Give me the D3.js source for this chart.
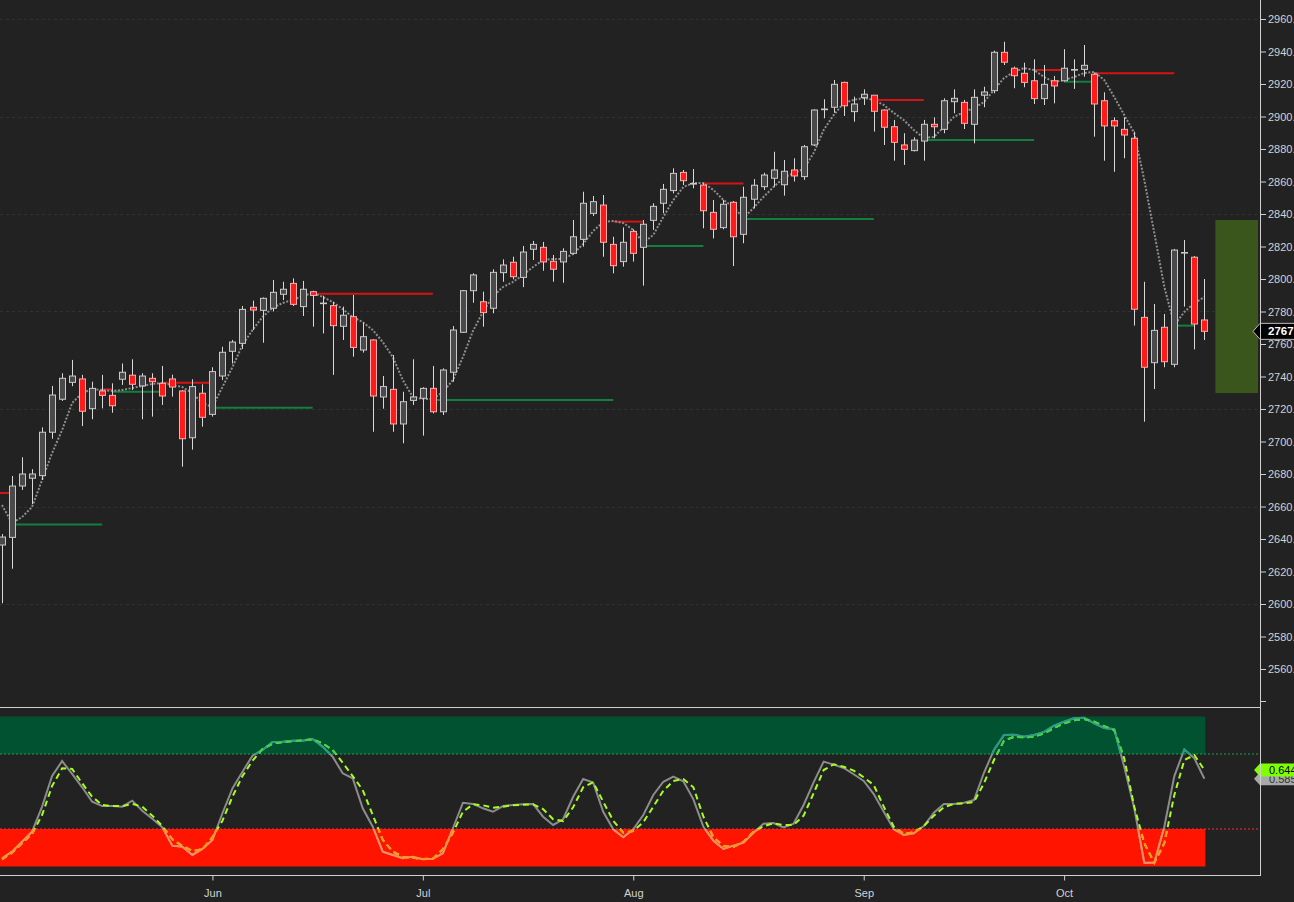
<!DOCTYPE html>
<html><head><meta charset="utf-8">
<script src="https://cdn.jsdelivr.net/npm/d3@7"></script>
<style>
html,body{margin:0;padding:0;background:#222222;overflow:hidden}
svg{display:block}
text{font-family:"Liberation Sans",Arial,sans-serif}
</style></head><body>
<svg id="c" width="1294" height="902"></svg>
<script>
// ---------- DATA ----------
const opens = [2636.3,2641.0,2672.6,2677.4,2679.0,2705.7,2726.0,2736.4,2738.5,2720.2,
2731.1,2728.4,2738.3,2740.8,2734.2,2738.9,2735.8,2738.5,2731.1,2702.3,
2729.7,2716.7,2740.3,2755.5,2760.4,2782.6,2780.7,2782.0,2790.6,2797.3,
2783.0,2792.2,2785.0,2783.6,2770.9,2776.8,2756.3,2762.5,2727.4,2732.1,
2710.8,2725.3,2726.6,2732.7,2718.3,2742.6,2767.2,2792.8,2786.0,2782.0,
2803.9,2810.3,2801.0,2818.3,2819.5,2810.9,2810.5,2815.8,2824.4,2840.4,
2845.5,2821.3,2810.7,2829.3,2819.5,2836.1,2846.6,2854.4,2865.6,2858.4,
2857.8,2841.0,2831.6,2847.2,2827.5,2849.1,2856.8,2862.0,2858.0,2867.1,
2863.0,2882.5,2904.2,2905.7,2921.0,2903.0,2911.6,2913.1,2904.0,2893.7,
2882.5,2879.0,2884.9,2895.2,2892.1,2909.1,2908.7,2895.2,2913.1,2915.9,
2939.5,2929.7,2926.6,2922.0,2911.0,2922.0,2922.0,2928.6,2929.0,2926.0,
2909.7,2897.4,2892.1,2886.6,2776.4,2748.5,2770.3,2747.5,2816.0,2813.4,
2774.8];
const highs = [2643.0,2678.8,2690.3,2683.0,2708.7,2734.2,2742.0,2750.2,2741.0,2736.8,
2741.0,2735.8,2748.0,2750.6,2742.0,2742.0,2746.5,2741.1,2731.7,2738.3,
2735.2,2745.7,2758.3,2762.5,2783.4,2786.7,2788.7,2799.4,2798.3,2800.4,
2798.8,2792.8,2789.7,2786.0,2783.0,2790.2,2773.1,2762.9,2740.3,2753.2,
2730.6,2750.6,2733.4,2746.5,2745.0,2771.0,2793.2,2803.5,2792.2,2806.0,
2812.1,2813.7,2820.3,2823.4,2822.8,2814.8,2818.9,2836.3,2853.7,2851.1,
2851.7,2826.0,2831.8,2830.6,2836.3,2846.6,2858.5,2868.1,2867.1,2867.7,
2858.9,2848.6,2848.6,2848.0,2856.8,2861.5,2865.4,2878.3,2873.2,2874.3,
2882.5,2904.4,2910.6,2922.5,2921.4,2912.2,2916.7,2913.2,2904.4,2897.9,
2889.7,2887.2,2897.9,2899.5,2911.2,2916.7,2910.2,2916.7,2918.3,2940.5,
2946.0,2930.7,2933.1,2935.2,2931.7,2924.9,2941.4,2935.2,2944.0,2927.0,
2914.9,2899.5,2899.5,2890.7,2798.3,2784.6,2778.5,2818.5,2824.0,2814.2,
2800.0];
const lows = [2600.5,2621.7,2670.2,2661.5,2676.3,2701.7,2725.0,2734.0,2709.5,2713.7,
2720.4,2717.7,2734.8,2731.7,2713.7,2715.3,2722.5,2727.6,2684.5,2695.0,
2709.1,2715.3,2737.8,2748.0,2757.0,2768.6,2760.8,2780.0,2787.0,2783.4,
2777.2,2770.7,2766.5,2741.0,2762.5,2752.2,2754.7,2706.0,2720.2,2706.0,
2698.9,2722.5,2703.6,2717.3,2716.3,2736.8,2767.0,2785.4,2770.7,2778.9,
2798.3,2799.8,2795.0,2811.7,2805.1,2798.3,2797.7,2815.0,2819.9,2838.8,
2813.7,2803.5,2807.6,2810.7,2795.9,2830.2,2840.4,2852.7,2857.8,2855.8,
2831.2,2825.0,2830.6,2808.0,2822.0,2843.5,2854.8,2856.8,2851.3,2860.0,
2861.0,2881.8,2898.9,2902.3,2900.3,2896.8,2907.1,2890.7,2882.5,2872.8,
2870.2,2878.5,2872.8,2886.6,2889.7,2902.0,2892.3,2883.5,2905.7,2914.3,
2931.7,2917.4,2918.0,2907.7,2907.1,2908.1,2921.5,2917.0,2924.5,2887.6,
2872.8,2866.0,2874.3,2771.3,2712.2,2732.3,2745.7,2745.7,2783.0,2756.7,
2762.5];
const closes = [2641.2,2672.6,2680.0,2680.0,2705.7,2728.6,2738.9,2740.3,2718.6,2732.7,
2728.4,2722.0,2742.6,2735.2,2740.3,2736.8,2728.0,2733.5,2701.7,2733.8,
2714.9,2743.0,2754.9,2761.2,2781.3,2780.9,2788.1,2791.8,2793.7,2784.4,
2793.7,2789.9,2785.2,2771.3,2777.7,2757.9,2764.5,2728.0,2733.8,2710.8,
2724.5,2727.4,2732.7,2718.3,2744.0,2768.6,2792.8,2802.5,2779.3,2804.1,
2808.6,2801.4,2816.6,2821.3,2810.5,2806.0,2817.0,2826.0,2846.6,2847.6,
2822.6,2808.2,2822.6,2815.8,2833.7,2844.7,2855.2,2865.0,2860.5,2858.8,
2842.0,2830.6,2846.0,2826.0,2850.3,2857.7,2864.0,2867.1,2866.3,2863.4,
2881.4,2904.0,2904.6,2919.8,2906.6,2907.7,2913.7,2903.2,2893.4,2884.1,
2879.8,2885.5,2895.2,2893.7,2909.7,2911.2,2895.8,2911.8,2915.1,2939.5,
2933.4,2925.1,2921.0,2911.0,2919.8,2918.8,2929.7,2928.9,2931.5,2907.7,
2894.2,2894.2,2888.6,2781.4,2745.7,2768.4,2749.1,2817.8,2816.3,2772.3,
2767.8];
const maLine = [2660.9,2649.8,2653.5,2659.7,2676.3,2692.9,2707.1,2723.7,2729.8,2732.3,
2731.7,2731.1,2731.7,2732.9,2734.2,2735.4,2736.0,2734.8,2733.5,2729.8,
2723.7,2721.2,2733.5,2745.8,2759.4,2768.6,2776.6,2782.2,2785.2,2787.1,
2789.5,2791.4,2789.0,2785.8,2781.5,2776.6,2773.5,2768.6,2761.2,2752.0,
2737.8,2727.4,2726.2,2726.2,2730.5,2737.8,2752.0,2768.0,2779.7,2789.5,
2795.1,2798.2,2802.5,2807.4,2811.7,2812.3,2812.3,2815.4,2821.5,2829.5,
2835.1,2835.7,2834.5,2830.2,2822.2,2827.1,2838.2,2848.6,2856.6,2859.1,
2859.1,2854.8,2848.6,2844.3,2837.5,2843.7,2850.5,2856.6,2862.2,2865.2,
2867.7,2877.5,2891.7,2900.9,2908.3,2910.2,2911.4,2910.2,2907.1,2902.2,
2897.8,2891.7,2886.8,2887.4,2893.5,2899.7,2902.8,2905.2,2908.9,2916.3,
2923.7,2927.4,2929.8,2928.6,2924.3,2921.2,2922.5,2924.3,2926.8,2927.4,
2922.5,2912.0,2900.9,2889.8,2860.9,2828.3,2795.1,2771.7,2779.7,2785.2,
2788.9];
const oscK = [0.055,0.099,0.165,0.232,0.399,0.603,0.703,0.617,0.528,0.432,
0.403,0.403,0.399,0.439,0.372,0.319,0.261,0.139,0.132,0.077,
0.117,0.177,0.355,0.521,0.632,0.739,0.777,0.830,0.832,0.839,
0.839,0.850,0.799,0.732,0.621,0.588,0.388,0.265,0.099,0.077,
0.055,0.065,0.048,0.052,0.088,0.255,0.425,0.417,0.388,0.365,
0.403,0.410,0.415,0.417,0.332,0.277,0.315,0.465,0.583,0.559,
0.365,0.248,0.195,0.248,0.343,0.477,0.565,0.599,0.568,0.448,
0.265,0.172,0.117,0.139,0.159,0.225,0.285,0.290,0.261,0.285,
0.410,0.561,0.699,0.679,0.657,0.615,0.570,0.483,0.365,0.248,
0.210,0.221,0.270,0.359,0.417,0.417,0.425,0.443,0.625,0.777,
0.877,0.879,0.865,0.877,0.897,0.939,0.965,0.988,0.992,0.955,
0.923,0.915,0.665,0.388,0.025,0.025,0.265,0.603,0.781,0.721,
0.585];
const oscD = [0.048,0.092,0.155,0.217,0.343,0.537,0.655,0.650,0.555,0.465,
0.410,0.403,0.403,0.417,0.399,0.339,0.270,0.181,0.137,0.105,
0.115,0.195,0.305,0.465,0.603,0.705,0.783,0.819,0.830,0.835,
0.841,0.848,0.821,0.777,0.692,0.603,0.510,0.343,0.177,0.099,
0.065,0.059,0.050,0.052,0.115,0.225,0.365,0.415,0.408,0.392,
0.399,0.408,0.412,0.415,0.383,0.315,0.303,0.395,0.528,0.561,
0.432,0.305,0.225,0.237,0.295,0.399,0.505,0.570,0.583,0.528,
0.332,0.195,0.137,0.130,0.165,0.232,0.268,0.288,0.277,0.277,
0.339,0.488,0.643,0.681,0.665,0.639,0.595,0.543,0.399,0.265,
0.217,0.228,0.270,0.339,0.395,0.417,0.421,0.430,0.555,0.710,
0.839,0.865,0.861,0.865,0.888,0.923,0.955,0.975,0.983,0.965,
0.935,0.910,0.721,0.399,0.155,0.025,0.155,0.477,0.710,0.743,
0.643];
const levelStart = [-3,1,10,11,16,21,31,43,61,64,70,74,87,92,103,106,109,117];
const levelEnd   = [1,10,11,16,21,31,43,61,64,70,74,87,92,103,106,109,117,119];
const levelPrice = [2668.3,2649.0,2732.1,2730.6,2736.2,2720.8,2791.0,2725.5,2835.3,2820.3,2858.7,2836.9,2910.2,2885.5,2928.6,2921.4,2926.6,2771.3];
const levelKind  = ["R","S","R","S","R","S","R","S","R","S","R","S","R","S","R","S","R","S"];
const zoneHigh = 2836.3, zoneLow = 2729.8;
const priceTicks = [2560,2580,2600,2620,2640,2660,2680,2700,2720,2740,2760,2780,2800,2820,2840,2860,2880,2900,2920,2940,2960];
const gridPrices = [2600,2660,2720,2780,2840,2900,2960];
const monthTicks = [21,42,63,86,106];
const monthLabels = ["Jun","Jul","Aug","Sep","Oct"];
const oscLevels = [0.75,0.25];
const lastPrice = 2767.78;
const lastK = 0.585, lastD = 0.644;

// ---------- LAYOUT ----------
const axisX = 1260, sepY = 707, botY = 875;
const svg = d3.select("#c");
const x = d3.scaleLinear().domain([0,120]).range([2,1204.4]);
const y = d3.scaleLinear().domain([2560,2960]).range([669,19]);
const yo = d3.scaleLinear().domain([0,1]).range([866.5,716.5]);
const idx = d3.range(closes.length);
const defs = svg.append("defs");
defs.append("clipPath").attr("id","pclip").append("rect").attr("x",0).attr("y",0).attr("width",axisX).attr("height",sepY-1);
defs.append("clipPath").attr("id","gclip").append("rect").attr("x",0).attr("y",700).attr("width",axisX).attr("height",yo(0.75)-700);
defs.append("clipPath").attr("id","rclip").append("rect").attr("x",0).attr("y",yo(0.25)).attr("width",axisX).attr("height",botY-yo(0.25));

svg.append("rect").attr("width",1294).attr("height",902).attr("fill","#222222");

// ---------- PRICE PANEL ----------
const gp = svg.append("g").attr("clip-path","url(#pclip)");
gp.selectAll("line.grid").data(gridPrices).join("line")
  .attr("x1",0).attr("x2",axisX).attr("y1",d=>Math.round(y(d))+0.5).attr("y2",d=>Math.round(y(d))+0.5)
  .attr("stroke","#323232").attr("stroke-width",1).attr("stroke-dasharray","3,3");

// zone box
gp.append("rect").attr("x",x(120)+11).attr("width",axisX-2-(x(120)+11))
  .attr("y",y(zoneHigh)).attr("height",y(zoneLow)-y(zoneHigh)).attr("fill","#3b561d");

// support / resistance levels
gp.selectAll("line.lvl").data(levelPrice).join("line")
  .attr("x1",(d,i)=>x(levelStart[i])).attr("x2",(d,i)=>x(levelEnd[i]))
  .attr("y1",d=>y(d)).attr("y2",d=>y(d))
  .attr("stroke",(d,i)=>levelKind[i]==="R"?"#d41414":"#12803b").attr("stroke-width",2);

// moving average dotted
gp.append("path").datum(idx)
  .attr("d",d3.line().x(i=>x(i)).y(i=>y(maLine[i])))
  .attr("fill","none").attr("stroke","#8e8e8e").attr("stroke-width",2).attr("stroke-dasharray","2,1.6");

// candles
const cg = gp.append("g");
cg.selectAll("line.wick").data(idx).join("line")
  .attr("x1",i=>Math.round(x(i))+0.5).attr("x2",i=>Math.round(x(i))+0.5)
  .attr("y1",i=>y(highs[i])).attr("y2",i=>y(lows[i]))
  .attr("stroke","#d9d9d9").attr("stroke-width",1);
cg.selectAll("rect.body").data(idx).join("rect")
  .attr("x",i=>Math.round(x(i))-2.5).attr("width",6)
  .attr("y",i=>y(Math.max(opens[i],closes[i])))
  .attr("height",i=>Math.max(0.6,Math.abs(y(opens[i])-y(closes[i]))))
  .attr("fill",i=>closes[i]>=opens[i]?"#4a4a4d":"#ff1a1a")
  .attr("stroke",i=>closes[i]>=opens[i]?"#c9c9c9":"#f2b0b0").attr("stroke-width",1);

// price axis
const ya = svg.append("g").attr("transform",`translate(${axisX},0)`)
  .call(d3.axisRight(y).tickValues(priceTicks).tickSize(6).tickPadding(2).tickFormat(d3.format(".2f")));
ya.select(".domain").remove();
ya.selectAll(".tick line").attr("stroke","#cfcfcf");
ya.selectAll(".tick text").attr("fill","#d2d2d2").attr("font-size",11);
svg.append("line").attr("x1",axisX).attr("x2",axisX+6).attr("y1",y(2540)).attr("y2",y(2540)).attr("stroke","#cfcfcf");

// last price marker
const ly = y(lastPrice);
svg.append("path").attr("d",`M${axisX-7},${ly} L${axisX},${ly-8} L1300,${ly-8} L1300,${ly+8} L${axisX},${ly+8} Z`)
  .attr("fill","#000").attr("stroke","#bdbdbd").attr("stroke-width",1);
svg.append("text").attr("x",1268).attr("y",ly).attr("dy","0.36em").attr("fill","#fff")
  .attr("font-size",11.5).attr("font-weight","bold").text(d3.format(".2f")(lastPrice));

// ---------- OSCILLATOR PANEL ----------
const og = svg.append("g");
og.append("rect").attr("x",0).attr("width",x(120)+1).attr("y",yo(1)).attr("height",yo(0.75)-yo(1)).attr("fill","#005230");
og.append("rect").attr("x",0).attr("width",x(120)+1).attr("y",yo(0.25)).attr("height",yo(0)-yo(0.25)).attr("fill","#ff1400");
og.selectAll("line.lev").data(oscLevels).join("line")
  .attr("x1",0).attr("x2",axisX-2).attr("y1",d=>yo(d)).attr("y2",d=>yo(d))
  .attr("stroke",d=>d>0.5?"#15a24f":"#ff2a2a").attr("stroke-width",1).attr("stroke-dasharray","2,2");

const kLine = d3.line().x(i=>x(i)).y(i=>yo(oscK[i]));
const dLine = d3.line().x(i=>x(i)).y(i=>yo(oscD[i]));
function drawLines(g, kc, dc){
  g.append("path").datum(idx).attr("d",kLine).attr("fill","none").attr("stroke",kc).attr("stroke-width",2);
  g.append("path").datum(idx).attr("d",dLine).attr("fill","none").attr("stroke",dc).attr("stroke-width",2).attr("stroke-dasharray","6,4");
}
drawLines(og.append("g"), "#8c8c8c", "#a4ff1c");
drawLines(og.append("g").attr("clip-path","url(#gclip)"), "#2a9a86", "#3fd04c");
drawLines(og.append("g").attr("clip-path","url(#rclip)"), "#ff8a5e", "#ff9a12");

// osc markers
function marker(v, fill, tc){
  const my = yo(v);
  svg.append("path").attr("d",`M${axisX-6},${my} L${axisX},${my-6.5} L1300,${my-6.5} L1300,${my+6.5} L${axisX},${my+6.5} Z`).attr("fill",fill);
  svg.append("text").attr("x",1269).attr("y",my).attr("dy","0.36em").attr("fill",tc).attr("font-size",11).text(d3.format(".3f")(v));
}
marker(lastK, "#a9a9a9", "#333");
marker(lastD, "#80ff00", "#000");

// ---------- FRAME & TIME AXIS ----------
svg.append("line").attr("x1",0).attr("x2",axisX).attr("y1",sepY+0.5).attr("y2",sepY+0.5).attr("stroke","#cfcfcf");
svg.append("line").attr("x1",0).attr("x2",axisX).attr("y1",botY+0.5).attr("y2",botY+0.5).attr("stroke","#cfcfcf");
svg.append("line").attr("x1",axisX+0.5).attr("x2",axisX+0.5).attr("y1",0).attr("y2",botY+1).attr("stroke","#cfcfcf");

const xa = svg.append("g").attr("transform",`translate(0,${botY+0.5})`)
  .call(d3.axisBottom(x).tickValues(monthTicks).tickSize(5).tickPadding(9).tickFormat((d,i)=>monthLabels[i]));
xa.select(".domain").remove();
xa.selectAll(".tick line").attr("stroke","#cfcfcf");
xa.selectAll(".tick text").attr("fill","#d2d2d2").attr("font-size",11);
</script>
</body></html>
